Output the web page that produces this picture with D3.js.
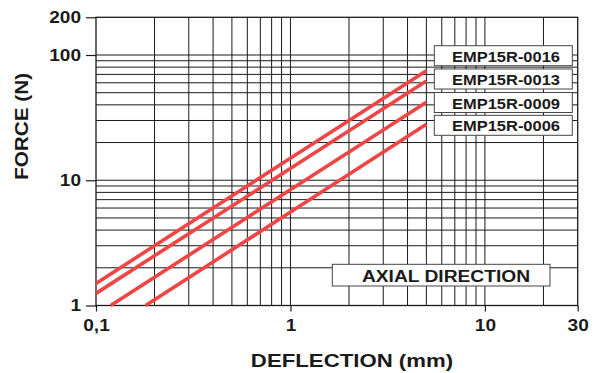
<!DOCTYPE html>
<html><head><meta charset="utf-8">
<script src="https://cdn.jsdelivr.net/npm/d3@7"></script>
<style>
html,body{margin:0;padding:0;background:#fff;}
text{font-family:"Liberation Sans",Arial,sans-serif;font-weight:bold;fill:#1a1a1a;}
</style></head>
<body>
<svg id="c" width="596" height="373"></svg>
<script>
// ---- data ----
const xTicks = [0.1, 1, 10, 30];
const xTickLabels = ["0,1", "1", "10", "30"];
const yTicks = [1, 10, 100, 200];
const yTickLabels = ["1", "10", "100", "200"];
const xGrid = [0.2,0.3,0.4,0.5,0.6,0.7,0.8,0.9,1,2,3,4,5,6,7,8,9,10,20];
const yGrid = [2,3,4,5,6,7,8,9,10,20,30,40,50,60,70,80,90,100];
const seriesNames = ["EMP15R-0016", "EMP15R-0013", "EMP15R-0009", "EMP15R-0006"];
const seriesDeflection = [[0.1, 5], [0.1, 5], [0.119, 5], [0.18, 5]];
const seriesForce = [[1.5, 75], [1.25, 62], [1, 42], [1, 28]];
const xTitle = "DEFLECTION (mm)";
const yTitle = "FORCE (N)";
const noteText = "AXIAL DIRECTION";

const svg = d3.select("#c");
const x = d3.scaleLog().domain([0.1, 30]).range([96, 577.7]);
const y = d3.scaleLog().domain([1, 200]).range([305.5, 17.3]);
const X0 = x.range()[0], X1 = x.range()[1], Y0 = y.range()[0], Y1 = y.range()[1];

function stretch(sel, f){
  sel.each(function(){
    const w = this.getComputedTextLength();
    d3.select(this).attr("textLength", w*f).attr("lengthAdjust","spacingAndGlyphs");
  });
}

// grid
const g = svg.append("g").attr("stroke","#1a1a1a").attr("stroke-width",1);
g.selectAll(".vx").data(xGrid).join("line")
  .attr("x1", d=>x(d)).attr("x2", d=>x(d)).attr("y1", Y0).attr("y2", Y1);
g.selectAll(".hy").data(yGrid).join("line")
  .attr("y1", d=>y(d)).attr("y2", d=>y(d)).attr("x1", X0).attr("x2", X1);
svg.append("rect").attr("x",X0).attr("y",Y1).attr("width",X1-X0).attr("height",Y0-Y1)
  .attr("fill","none").attr("stroke","#1a1a1a").attr("stroke-width",1.3);

// axes
const ax = svg.append("g").attr("transform",`translate(0,${Y0})`)
  .call(d3.axisBottom(x).tickValues(xTicks).tickFormat((d,i)=>xTickLabels[i]).tickSize(6).tickPadding(8));
const ay = svg.append("g").attr("transform",`translate(${X0},0)`)
  .call(d3.axisLeft(y).tickValues(yTicks).tickFormat((d,i)=>yTickLabels[i]).tickSize(10).tickPadding(5));
[ax, ay].forEach(a=>{
  a.select(".domain").remove();
  a.selectAll("line").attr("stroke","#1a1a1a").attr("stroke-width",1.2);
  a.selectAll("text").attr("font-size",16).attr("font-family",null).attr("fill","#1a1a1a")
    .style("font-family","'Liberation Sans',Arial,sans-serif").style("font-weight","bold");
  stretch(a.selectAll("text"), 1.19);
});

// series lines
const line = d3.line().x(d=>x(d[0])).y(d=>y(d[1]));
seriesNames.forEach((n,i)=>{
  const pts = seriesDeflection[i].map((d,j)=>[d, seriesForce[i][j]]);
  svg.append("path").datum(pts).attr("d", line)
    .attr("fill","none").attr("stroke","#ef4545").attr("stroke-width",3.6);
});

// legend boxes
const legTop = [45.7, 69, 92.5, 115.3];
seriesNames.forEach((n,i)=>{
  svg.append("rect").attr("x",434.3).attr("y",legTop[i]).attr("width",138).attr("height",20)
    .attr("fill","#fff").attr("stroke","#444").attr("stroke-width",1);
  svg.append("text").attr("x",506).attr("y",legTop[i]+16).attr("text-anchor","middle")
    .attr("font-size",14.5).attr("textLength",108).attr("lengthAdjust","spacingAndGlyphs").text(n);
});

// note box
svg.append("rect").attr("x",332.3).attr("y",264.3).attr("width",217.7).attr("height",21.7)
  .attr("fill","#fff").attr("stroke","#444").attr("stroke-width",1);
const nt = svg.append("text").attr("x",446).attr("y",282.3).attr("text-anchor","middle")
  .attr("font-size",16).text(noteText);
stretch(nt, 1.2);

// titles
const xt = svg.append("text").attr("x",352).attr("y",366.7).attr("text-anchor","middle")
  .attr("font-size",18.5).text(xTitle);
stretch(xt, 1.2);
const yt = svg.append("text").attr("transform","translate(28,126.5) rotate(-90)")
  .attr("text-anchor","middle").attr("font-size",18.5).text(yTitle);
stretch(yt, 1.12);
</script>
</body></html>
